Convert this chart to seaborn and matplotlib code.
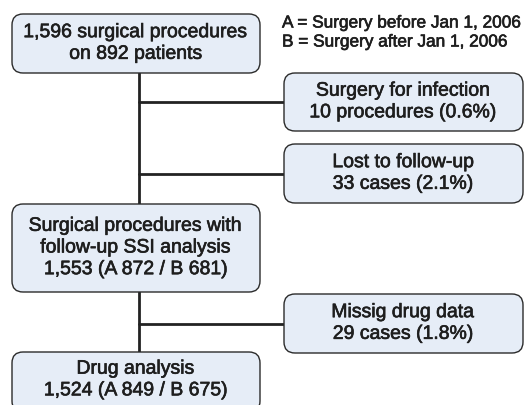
import matplotlib.pyplot as plt
import matplotlib.patheffects as pe
import seaborn as sns
from matplotlib.patches import FancyBboxPatch

# flowchart text
main_labels = [
    "1,596 surgical procedures\non 892 patients",
    "Surgical procedures with\nfollow-up SSI analysis\n1,553 (A 872 / B 681)",
    "Drug analysis\n1,524 (A 849 / B 675)",
]
side_labels = [
    "Surgery for infection\n10 procedures (0.6%)",
    "Lost to follow-up\n33 cases (2.1%)",
    "Missig drug data\n29 cases (1.8%)",
]
legend_lines = [
    "A = Surgery before Jan 1, 2006",
    "B = Surgery after Jan 1, 2006",
]

# layout in pixel coordinates (top, bottom)
main_rows = [(14, 73), (204, 292), (352, 412)]
side_rows = [(73, 131), (144, 203), (294, 353)]
main_x = (12, 260)
side_x = (284, 523)
trunk_x = 139

FILL = "#e6edf7"
EDGE = "#2b2b2b"
TEXT = "#1e1e1e"

sns.set_theme(style="white")
plt.rcParams["font.family"] = ["Liberation Sans", "DejaVu Sans"]

fig = plt.figure(figsize=(5.25, 4.05), dpi=100)
ax = fig.add_axes([0, 0, 1, 1])
ax.set_xlim(0, 525)
ax.set_ylim(405, 0)
ax.axis("off")

heavy = [pe.withStroke(linewidth=0.45, foreground=TEXT)]


def draw_box(x0, x1, y0, y1, label):
    box = FancyBboxPatch(
        (x0, y0), x1 - x0, y1 - y0,
        boxstyle="round,pad=0,rounding_size=11",
        facecolor=FILL, edgecolor=EDGE, linewidth=1.0, zorder=2,
    )
    ax.add_patch(box)
    yc = (y0 + y1) / 2 if y1 < 405 else y0 + 28
    ax.text((x0 + x1) / 2, yc, label,
            ha="center", va="center", fontsize=14, color=TEXT,
            linespacing=1.36, zorder=3, path_effects=heavy)


# connector lines
ax.plot([trunk_x, trunk_x], [main_rows[0][1], main_rows[1][0]], color="#222222", lw=2, zorder=1)
ax.plot([trunk_x, trunk_x], [main_rows[1][1], main_rows[2][0]], color="#222222", lw=2, zorder=1)
for y0, y1 in side_rows:
    ym = (y0 + y1) / 2
    ax.plot([trunk_x, side_x[0]], [ym, ym], color="#222222", lw=2, zorder=1)

for (y0, y1), label in zip(main_rows, main_labels):
    draw_box(main_x[0], main_x[1], y0, y1, label)
for (y0, y1), label in zip(side_rows, side_labels):
    draw_box(side_x[0], side_x[1], y0, y1, label)

for i, line in enumerate(legend_lines):
    ax.text(282, 23 + i * 19, line, ha="left", va="center", fontsize=12.4,
            color=TEXT, path_effects=heavy)

fig.savefig("out.png", dpi=100)
